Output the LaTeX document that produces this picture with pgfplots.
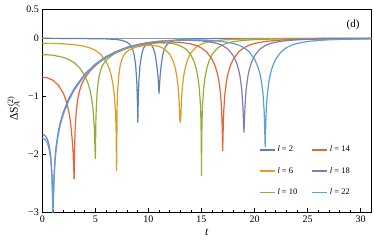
\documentclass[border=0pt]{standalone}
\usepackage{fontspec}
\setmainfont{Liberation Serif}
\usepackage{pgfplots}
\pgfplotsset{compat=1.18}
\definecolor{c1}{HTML}{5E81B5}
\definecolor{c2}{HTML}{E19C24}
\definecolor{c3}{HTML}{8FB032}
\definecolor{c4}{HTML}{EB6235}
\definecolor{c5}{HTML}{8778B3}
\definecolor{c6}{HTML}{5DA0D5}
\begin{document}
\begin{tikzpicture}
\begin{axis}[
  scale only axis, width=329pt, height=203pt,
  xmin=0, xmax=31, ymin=-3, ymax=0.5,
  xtick={0,5,10,15,20,25,30}, minor x tick num=4,
  ytick={-3,-2,-1,0,0.5}, yticklabels={−3,−2,−1,0,0.5},
  xtick pos=left, ytick pos=left, tick align=inside,
  major tick length=4pt, minor tick length=2.2pt,
  tick style={black, line width=0.7pt},
  axis line style={black, line width=0.9pt},
  ticklabel style={font=\fontsize{10}{12}\selectfont},
  /pgf/number format/assume math mode=true,
  xlabel={\textit{t}}, ylabel={ΔS\rlap{\textsuperscript{(2)}}\textsubscript{\textit{A}}},
  label style={font=\fontsize{11.5}{13}\selectfont},
  legend columns=2,
  legend cell align=left,
  legend image code/.code={\draw[#1] (0pt,0pt) -- (15pt,0pt);},
  legend style={draw=none, fill=none, inner sep=0pt, at={(axis cs:20.4,-1.82)}, anchor=north west,
    font=\fontsize{8.5}{9}\selectfont, row sep=10pt,
    /tikz/every even column/.append style={column sep=12pt}},
  every axis plot/.append style={line width=1.2pt, line join=round},
]
\coordinate (SW) at (rel axis cs:0,0);
\coordinate (NE) at (rel axis cs:1,1);
\addplot[gray!80, line width=0.8pt, forget plot] coordinates {(0,0) (31,0)};
% l = 2
\addplot[c1, forget plot] coordinates {(0,0) (2,-0.002) (4,-0.005) (5,-0.008) (6,-0.010) (7,-0.021) (7.5,-0.035) (8,-0.068) (8.3,-0.117) (8.5,-0.186) (8.65,-0.28) (8.8,-0.47) (8.9,-0.73) (8.95,-1.01) (9,-1.45) (9.05,-1.01) (9.1,-0.736) (9.2,-0.476) (9.35,-0.294) (9.5,-0.19) (9.7,-0.115) (10,-0.09) (10.3,-0.115) (10.5,-0.19) (10.65,-0.294) (10.8,-0.476) (10.9,-0.65) (10.95,-0.8) (11,-0.95) (11.05,-0.8) (11.1,-0.65) (11.2,-0.47) (11.35,-0.28) (11.5,-0.186) (11.7,-0.117) (12,-0.068) (12.5,-0.035) (13,-0.021) (14,-0.010) (16,-0.005) (20,-0.002) (31,0)};
% l = 6
\addplot[c2, forget plot] coordinates {(0,-0.086) (1,-0.088) (2,-0.095) (3,-0.109) (4,-0.139) (4.5,-0.166) (5,-0.207) (5.5,-0.276) (6,-0.396) (6.3,-0.519) (6.5,-0.644) (6.65,-0.78) (6.8,-1.0) (6.9,-1.277) (6.95,-1.55) (7,-2.28) (7.05,-1.19) (7.1,-0.915) (7.2,-0.649) (7.35,-0.458) (7.5,-0.359) (7.7,-0.284) (8,-0.224) (8.5,-0.173) (9,-0.145) (9.5,-0.128) (10,-0.12) (10.5,-0.123) (11,-0.14) (11.5,-0.181) (12,-0.273) (12.3,-0.379) (12.5,-0.494) (12.65,-0.625) (12.8,-0.84) (12.9,-1.114) (12.95,-1.39) (13,-1.45) (13.05,-1.39) (13.1,-1.11) (13.2,-0.835) (13.35,-0.616) (13.5,-0.483) (13.7,-0.364) (14,-0.254) (14.5,-0.152) (15,-0.099) (15.5,-0.068) (16,-0.05) (17,-0.029) (18,-0.018) (19,-0.013) (21,-0.0074) (23,-0.0047) (28,-0.0021) (31,-0.0015)};
% l = 10
\addplot[c3, forget plot] coordinates {(0,-0.28) (1,-0.291) (2,-0.330) (2.5,-0.365) (3,-0.419) (3.5,-0.503) (4,-0.639) (4.3,-0.77) (4.5,-0.898) (4.65,-1.037) (4.8,-1.259) (4.9,-1.535) (4.95,-1.81) (5,-2.07) (5.05,-1.41) (5.1,-1.129) (5.2,-0.855) (5.35,-0.654) (5.5,-0.544) (5.7,-0.457) (6,-0.379) (6.5,-0.302) (7,-0.245) (8,-0.172) (9,-0.122) (10,-0.091) (11,-0.078) (12,-0.085) (12.5,-0.099) (13,-0.128) (13.5,-0.181) (14,-0.286) (14.3,-0.40) (14.5,-0.519) (14.65,-0.653) (14.8,-0.871) (14.9,-1.146) (14.95,-1.423) (14.98,-1.8) (15,-2.36) (15.02,-1.8) (15.05,-1.423) (15.1,-1.146) (15.2,-0.87) (15.35,-0.652) (15.5,-0.517) (15.7,-0.396) (16,-0.279) (16.5,-0.17) (17,-0.113) (17.5,-0.078) (18,-0.0575) (19,-0.0344) (20,-0.0227) (21,-0.016) (23,-0.0092) (25,-0.0059) (27,-0.0041) (31,-0.0023)};
% l = 14
\addplot[c4, forget plot] coordinates {(0,-0.671) (0.5,-0.683) (1,-0.724) (1.5,-0.805) (2,-0.955) (2.3,-1.109) (2.5,-1.265) (2.65,-1.436) (2.8,-1.71) (2.9,-1.95) (2.95,-2.2) (3,-2.43) (3.05,-1.83) (3.1,-1.545) (3.2,-1.258) (3.35,-1.037) (3.5,-0.914) (3.7,-0.798) (4,-0.688) (4.5,-0.561) (5,-0.471) (5.5,-0.397) (6,-0.335) (7,-0.237) (8,-0.167) (9,-0.119) (10,-0.087) (11,-0.069) (12,-0.064) (13,-0.07) (14,-0.097) (14.5,-0.124) (15,-0.167) (15.5,-0.238) (16,-0.36) (16.3,-0.485) (16.5,-0.611) (16.65,-0.748) (16.8,-0.969) (16.9,-1.245) (16.95,-1.52) (17,-1.94) (17.05,-1.52) (17.1,-1.243) (17.2,-0.967) (17.35,-0.746) (17.5,-0.609) (17.7,-0.483) (18,-0.358) (18.5,-0.234) (19,-0.162) (19.5,-0.118) (20,-0.0884) (21,-0.0544) (22,-0.0365) (23,-0.026) (24,-0.0195) (25,-0.015) (27,-0.0098) (29,-0.0069) (31,-0.0051)};
% l = 18
\addplot[c5, forget plot] coordinates {(0,-1.655) (0.2,-1.668) (0.4,-1.712) (0.5,-1.753) (0.6,-1.812) (0.7,-1.901) (0.8,-2.042) (0.9,-2.305) (0.95,-2.578) (1,-2.8) (1.05,-2.72) (1.1,-2.40) (1.2,-2.07) (1.3,-1.87) (1.5,-1.615) (1.7,-1.447) (2,-1.264) (2.5,-1.038) (3,-0.869) (4,-0.618) (5,-0.443) (6,-0.316) (7,-0.222) (8,-0.154) (9,-0.106) (10,-0.073) (11,-0.052) (12,-0.039) (13,-0.033) (14,-0.034) (15,-0.044) (16,-0.068) (16.5,-0.091) (17,-0.126) (17.5,-0.188) (18,-0.301) (18.3,-0.419) (18.5,-0.542) (18.65,-0.677) (18.8,-0.896) (18.9,-1.172) (18.95,-1.40) (19,-1.62) (19.05,-1.40) (19.1,-1.172) (19.2,-0.896) (19.35,-0.677) (19.5,-0.542) (19.7,-0.419) (20,-0.301) (20.5,-0.188) (21,-0.126) (21.5,-0.089) (22,-0.0657) (23,-0.0396) (24,-0.0262) (25,-0.0186) (26,-0.0138) (27,-0.0107) (28,-0.0085) (29,-0.0069) (31,-0.0048)};
% l = 22
\addplot[c6, forget plot] coordinates {(0,-1.72) (0.2,-1.733) (0.4,-1.777) (0.5,-1.818) (0.6,-1.877) (0.7,-1.966) (0.8,-2.107) (0.9,-2.37) (0.95,-2.643) (1,-3.05) (1.05,-2.775) (1.1,-2.458) (1.2,-2.122) (1.3,-1.919) (1.5,-1.663) (1.7,-1.491) (2,-1.303) (2.5,-1.07) (3,-0.896) (4,-0.637) (5,-0.456) (6,-0.327) (7,-0.23) (8,-0.16) (9,-0.109) (10,-0.074) (11,-0.052) (12,-0.038) (13,-0.03) (14,-0.028) (15,-0.031) (16,-0.039) (17,-0.056) (18,-0.0884) (18.5,-0.118) (19,-0.162) (19.5,-0.234) (20,-0.358) (20.3,-0.483) (20.5,-0.609) (20.65,-0.746) (20.8,-0.967) (20.9,-1.243) (20.95,-1.52) (21,-1.87) (21.05,-1.52) (21.1,-1.243) (21.2,-0.967) (21.35,-0.746) (21.5,-0.609) (21.7,-0.483) (22,-0.358) (22.5,-0.234) (23,-0.162) (23.5,-0.118) (24,-0.0884) (25,-0.0544) (26,-0.0365) (27,-0.026) (28,-0.0195) (29,-0.015) (31,-0.0098)};
\addlegendimage{c1, line width=1.5pt}\addlegendentry{\textit{l} = 2}
\addlegendimage{c4, line width=1.5pt}\addlegendentry{\textit{l} = 14}
\addlegendimage{c2, line width=1.5pt}\addlegendentry{\textit{l} = 6}
\addlegendimage{c5, line width=1.5pt}\addlegendentry{\textit{l} = 18}
\addlegendimage{c3, line width=1.5pt}\addlegendentry{\textit{l} = 10}
\addlegendimage{c6, line width=1.5pt}\addlegendentry{\textit{l} = 22}
\node[anchor=east, font=\fontsize{11}{13}\selectfont] at (rel axis cs:0.975,0.923) {(d)};
\end{axis}
\pgfresetboundingbox
\path[use as bounding box] ([xshift=-42.3pt,yshift=-38.7pt]SW) rectangle ([xshift=2.7pt,yshift=9.3pt]NE);
\end{tikzpicture}
\end{document}
